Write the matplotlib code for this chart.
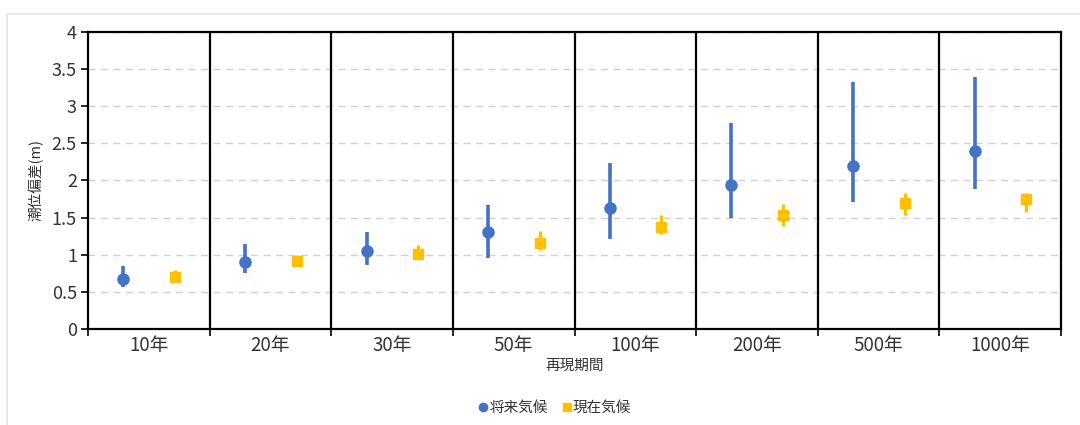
import matplotlib
matplotlib.use("Agg")
import matplotlib.pyplot as plt
from matplotlib.lines import Line2D
from matplotlib.patches import Rectangle
import numpy as np

plt.rcParams['font.family'] = ['Noto Sans CJK JP', 'DejaVu Sans']

# Return periods
categories = ["10年", "20年", "30年", "50年", "100年", "200年", "500年", "1000年"]

# Future climate (将来気候): central estimate with lower / upper bounds
future_mid = [0.68, 0.90, 1.05, 1.30, 1.63, 1.94, 2.19, 2.40]
future_low = [0.56, 0.76, 0.86, 0.96, 1.21, 1.50, 1.71, 1.885]
future_high = [0.85, 1.14, 1.30, 1.67, 2.23, 2.77, 3.33, 3.39]

# Present climate (現在気候)
present_mid = [0.70, 0.92, 1.01, 1.16, 1.38, 1.535, 1.70, 1.75]
present_low = [0.65, 0.87, 0.95, 1.07, 1.28, 1.39, 1.535, 1.58]
present_high = [0.79, 1.00, 1.13, 1.32, 1.53, 1.68, 1.83, 1.83]

yticks = [0, 0.5, 1, 1.5, 2, 2.5, 3, 3.5, 4]
ytick_labels = ["0", "0.5", "1", "1.5", "2", "2.5", "3", "3.5", "4"]

BLUE = "#4472C4"
YELLOW = "#FFC000"
TEXT = "#333333"

W, H = 1080, 425
fig = plt.figure(figsize=(W / 100, H / 100), dpi=100)

# light outer frame
fig.patches.append(Rectangle((7 / W, -0.1), 1.2, (H - 14) / H + 0.1,
                             transform=fig.transFigure, fill=False,
                             edgecolor="#e3e3e3", linewidth=1.2, zorder=0))

ax = fig.add_axes([88 / W, (H - 329) / H, (1061 - 88) / W, (329 - 32) / H])

n = len(categories)
idx = np.arange(n)
x_future = idx + 0.29
x_present = idx + 0.715

fm = np.array(future_mid)
pm = np.array(present_mid)
ax.errorbar(x_future, fm, yerr=[fm - np.array(future_low), np.array(future_high) - fm],
            fmt='o', color=BLUE, ecolor=BLUE, elinewidth=2.6, capsize=0,
            markersize=8, zorder=4)
ax.errorbar(x_present, pm, yerr=[pm - np.array(present_low), np.array(present_high) - pm],
            fmt='s', color=YELLOW, ecolor=YELLOW, elinewidth=2.4, capsize=0,
            markersize=7.5, zorder=4)

# category separators
for b in range(1, n):
    ax.axvline(b, color="black", linewidth=1.6, zorder=3)

ax.set_xlim(0, n)
ax.set_ylim(0, 4)

ax.set_yticks(yticks)
ax.set_yticklabels(ytick_labels)
ax.yaxis.grid(True, linestyle=(0, (5, 4)), color="#d0d0d0", linewidth=1.0)
ax.set_axisbelow(True)

ax.set_xticks(np.arange(n + 1))
ax.set_xticklabels([])
ax.set_xticks(idx + 0.5, minor=True)
ax.set_xticklabels(categories, minor=True)
ax.tick_params(axis='x', which='major', length=5, width=1.2, color="black")
ax.tick_params(axis='x', which='minor', length=0, pad=4, labelsize=13.5, labelcolor=TEXT)
ax.tick_params(axis='y', length=5, width=1.2, color="black", labelsize=13,
               labelcolor=TEXT, pad=3)

for s in ax.spines.values():
    s.set_linewidth(1.6)
    s.set_color("black")

ax.set_ylabel("潮位偏差(m)", fontsize=10.5, color=TEXT, labelpad=6)
ax.set_xlabel("再現期間", fontsize=10.5, color=TEXT, labelpad=2)

handles = [
    Line2D([], [], marker='o', linestyle='none', color=BLUE, markersize=6),
    Line2D([], [], marker='s', linestyle='none', color=YELLOW, markersize=6),
]
fig.legend(handles, ["将来気候", "現在気候"], loc='center', bbox_to_anchor=(0.514, 17 / H),
           ncol=2, frameon=False, fontsize=10.5, handlelength=0.6, handletextpad=0.1,
           columnspacing=1.0, labelcolor=TEXT)

fig.savefig("out.png", dpi=100)
